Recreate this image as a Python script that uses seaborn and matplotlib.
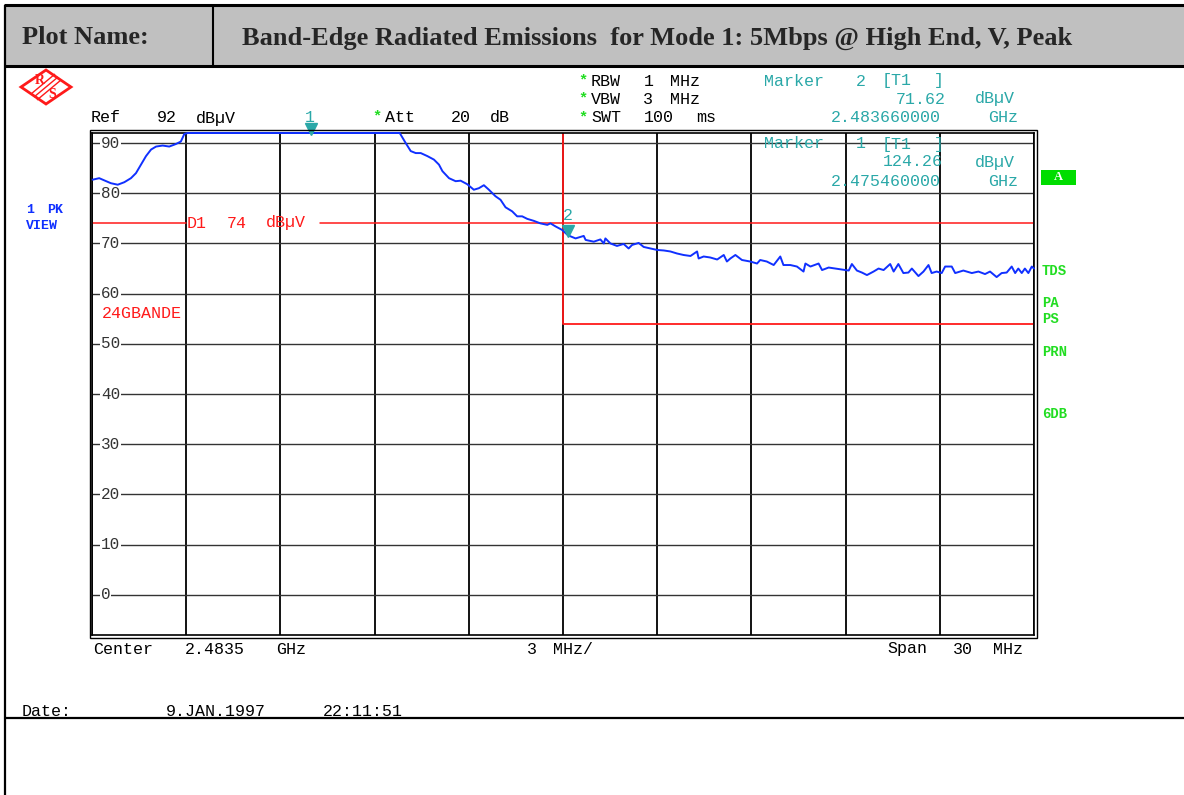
import numpy as np
import pandas as pd
import matplotlib
matplotlib.use("Agg")
import matplotlib.pyplot as plt
import seaborn as sns
from matplotlib.patches import Rectangle, Polygon
from matplotlib.lines import Line2D

# trace (MHz, dBuV); values above ref level are clipped on screen
freq_mhz = [2468.52, 2468.73, 2468.95, 2469.10, 2469.32, 2469.53, 2469.74, 2469.90, 2470.06, 2470.22,
            2470.38, 2470.54, 2470.75, 2470.96, 2471.17, 2471.33, 2471.44, 2471.55, 2475.46, 2478.30,
            2478.49, 2478.65, 2478.81, 2478.97, 2479.18, 2479.39, 2479.55, 2479.66, 2479.87, 2480.08,
            2480.24, 2480.45, 2480.66, 2480.82, 2480.98, 2481.14, 2481.35, 2481.51, 2481.67, 2481.88,
            2482.04, 2482.20, 2482.36, 2482.57, 2482.78, 2483.00, 2483.10, 2483.26, 2483.47, 2483.66,
            2483.90, 2484.16, 2484.22, 2484.48, 2484.69, 2484.80, 2484.85, 2485.01, 2485.22, 2485.43,
            2485.59, 2485.70, 2485.91, 2486.07, 2486.28, 2486.50, 2486.71, 2486.92, 2487.13, 2487.34,
            2487.56, 2487.77, 2487.82, 2487.98, 2488.19, 2488.41, 2488.62, 2488.72, 2488.83, 2488.99,
            2489.20, 2489.46, 2489.68, 2489.78, 2489.99, 2490.21, 2490.42, 2490.52, 2490.74, 2490.95,
            2491.16, 2491.22, 2491.38, 2491.64, 2491.75, 2491.96, 2492.17, 2492.38, 2492.60, 2492.70,
            2492.86, 2493.02, 2493.18, 2493.39, 2493.55, 2493.71, 2493.92, 2494.03, 2494.18, 2494.34,
            2494.50, 2494.61, 2494.82, 2494.98, 2495.14, 2495.24, 2495.40, 2495.56, 2495.67, 2495.88,
            2495.99, 2496.25, 2496.52, 2496.73, 2496.94, 2497.10, 2497.31, 2497.47, 2497.63, 2497.79,
            2497.90, 2498.00, 2498.11, 2498.21, 2498.32, 2498.43, 2498.50]
level_dbuv = [82.7, 83.0, 82.4, 82.0, 81.7, 82.2, 83.0, 84.0, 85.7, 87.4,
              88.7, 89.3, 89.5, 89.3, 89.8, 90.3, 91.8, 95.0, 124.26, 95.0,
              90.0, 88.4, 88.0, 88.0, 87.4, 86.7, 85.7, 84.4, 83.0, 82.4,
              82.5, 81.8, 80.7, 81.0, 81.6, 80.7, 79.4, 78.7, 77.2, 76.4,
              75.4, 75.4, 74.9, 74.5, 74.0, 73.7, 74.0, 73.4, 72.7, 71.62,
              71.0, 71.5, 70.7, 70.35, 70.8, 70.0, 71.0, 70.0, 69.5, 69.9,
              69.0, 69.7, 70.1, 69.3, 69.0, 68.7, 68.6, 68.4, 68.0, 67.7,
              67.5, 68.4, 67.0, 67.4, 67.2, 66.8, 67.7, 66.4, 67.0, 67.7,
              66.7, 66.4, 66.0, 66.7, 66.4, 65.7, 67.4, 65.7, 65.7, 65.4,
              64.4, 66.0, 65.4, 66.0, 64.7, 65.2, 65.0, 64.8, 64.6, 65.9,
              64.6, 64.2, 63.7, 64.4, 65.0, 64.7, 65.9, 64.4, 65.9, 64.1,
              64.2, 65.0, 63.5, 64.4, 65.7, 64.1, 64.4, 64.1, 65.4, 65.4,
              64.1, 64.6, 64.1, 64.4, 63.9, 64.4, 63.3, 64.1, 64.2, 65.4,
              64.1, 65.0, 64.1, 65.0, 64.1, 65.4, 65.0]

ref_level = 92
display_range = 100
center_mhz = 2483.5
span_mhz = 30
d1_level = 74
limit_level = 54
marker_freq_mhz = [2475.46, 2483.66]
marker_level = [124.26, 71.62]
y_tick_values = [0, 10, 20, 30, 40, 50, 60, 70, 80, 90]

W, H = 1184, 795
BLUE = "#1030ff"
TEAL = "#2aa8a8"
GREEN = "#22dd22"
RED = "#ff1a1a"
MONO = ["Liberation Mono", "DejaVu Sans Mono"]
SERIF = ["Liberation Serif", "DejaVu Serif"]

sns.set_style("white")
plt.rcParams["font.family"] = MONO

fig = plt.figure(figsize=(W / 100, H / 100), dpi=100)


def fx(x):
    return x / W


def fy(y):
    return 1 - y / H


def line(x0, y0, x1, y1, lw=1.5, color="black"):
    fig.add_artist(Line2D([fx(x0), fx(x1)], [fy(y0), fy(y1)], transform=fig.transFigure,
                          lw=lw, color=color, solid_capstyle="butt"))


def screen_text(x, y, s, color="black", ha="left", size=12, weight="normal", pitch=13.1):
    # the analyser font is very wide, so each word goes at its own character cell
    if ha == "right":
        x = x - len(s) * pitch
    col = 0
    for word in s.split(" "):
        if word:
            fig.text(fx(x + col * pitch), fy(y), word, color=color, fontsize=size,
                     fontweight=weight, va="center", ha="left", family=MONO)
        col += len(word) + 1


def star(x, y):
    fig.text(fx(x), fy(y), "*", color=GREEN, fontsize=11, fontweight="bold", va="center", family=MONO)


# --- table frame ---
fig.add_artist(Rectangle((fx(5), fy(66)), 1 - fx(5), fy(5) - fy(66), transform=fig.transFigure,
                         facecolor="#c0c0c0", edgecolor="none", zorder=0))
line(4, 5, W, 5, lw=2.2)
line(4, 66, W, 66, lw=2.2)
line(5, 5, 5, H, lw=1.6)
line(213, 5, 213, 66, lw=1.5)
line(5, 718, W, 718, lw=1.6)
fig.text(fx(22), fy(38), "Plot Name:", fontsize=19, fontweight="bold", family=SERIF, va="center")
fig.text(fx(242), fy(38), "Band-Edge Radiated Emissions  for Mode 1: 5Mbps @ High End, V, Peak",
         fontsize=19, fontweight="bold", family=SERIF, va="center")

# --- R&S logo ---
fig.add_artist(Polygon([(fx(21), fy(87)), (fx(46), fy(70)), (fx(71), fy(87)), (fx(46), fy(104))],
                       closed=True, transform=fig.transFigure, facecolor="white", edgecolor=RED, lw=2.0))
for k in (-3, 0, 3):
    line(34 + k, 97 + k, 58 + k, 77 + k, lw=1.0, color=RED)
fig.text(fx(40), fy(80), "R", color=RED, fontsize=10, fontweight="bold", ha="center", va="center", family=SERIF)
fig.text(fx(52), fy(94), "S", color=RED, fontsize=10, fontweight="bold", ha="center", va="center", family=SERIF)

# --- plot area ---
ax = fig.add_axes([fx(92), fy(635), fx(1034) - fx(92), fy(133) - fy(635)])
f_lo = center_mhz - span_mhz / 2
f_hi = center_mhz + span_mhz / 2
ax.set_xlim(f_lo, f_hi)
ax.set_ylim(ref_level - display_range, ref_level)
ax.set_xticks(np.arange(f_lo, f_hi + 0.01, span_mhz / 10))
ax.set_yticks(y_tick_values)
ax.tick_params(length=0, labelleft=False, labelbottom=False)
ax.xaxis.grid(True, color="black", lw=1.3)
ax.yaxis.grid(True, color="#333333", lw=1.0)
for sp in ax.spines.values():
    sp.set_color("black")
    sp.set_linewidth(1.2)
# outer line of the double frame
fig.add_artist(Rectangle((fx(89.5), fy(637.5)), fx(1036.5) - fx(89.5), fy(130.5) - fy(637.5),
                         transform=fig.transFigure, fill=False, edgecolor="black", lw=1.0))

for v in y_tick_values:
    ax.text(0.0096, v, str(v), transform=ax.get_yaxis_transform(), fontsize=11.5, va="center",
            ha="left", color="#333333", family=MONO,
            bbox=dict(facecolor="white", edgecolor="none", pad=0.6), zorder=3)

# display line D1 (broken where its label sits) and the band-edge limit
ax.axhline(d1_level, xmin=0, xmax=(186 - 92) / 942, color=RED, lw=1.1, zorder=2)
ax.axhline(d1_level, xmin=(320 - 92) / 942, xmax=1, color=RED, lw=1.1, zorder=2)
ax.plot([center_mhz, center_mhz, f_hi], [ref_level, limit_level, limit_level], color=RED, lw=1.3, zorder=2)

df = pd.DataFrame({"freq": freq_mhz, "level": np.minimum(level_dbuv, ref_level)})
sns.lineplot(data=df, x="freq", y="level", color=BLUE, lw=1.4, ax=ax, estimator=None, sort=False, zorder=4)
ax.lines[-1].set_clip_on(False)
ax.set_xlabel("")
ax.set_ylabel("")

# marker triangles
m_y = np.minimum(marker_level, ref_level)
ax.plot(marker_freq_mhz[0], m_y[0] + 0.8, marker="v", color=TEAL, markersize=9, clip_on=False, zorder=5)
ax.plot(marker_freq_mhz[1], m_y[1] + 0.8, marker="v", color=TEAL, markersize=9, clip_on=False, zorder=5)
ax.text(marker_freq_mhz[1], m_y[1] + 2.5, "2", color=TEAL, fontsize=12, ha="center", va="bottom", family=MONO)

# --- screen annotations ---
screen_text(91, 118, "Ref  92 dBµV")
screen_text(305, 118, "1", color=TEAL)
star(372, 116)
screen_text(385, 118, "Att  20 dB")
star(578, 80)
screen_text(591, 81, "RBW 1 MHz")
star(578, 98)
screen_text(591, 99, "VBW 3 MHz")
star(578, 117)
screen_text(591, 118, "SWT 100 ms")
screen_text(764, 81, "Marker 2 [T1 ]", color=TEAL)
screen_text(1027, 99, "71.62 dBµV", color=TEAL, ha="right")
screen_text(1027, 118, "2.483660000 GHz", color=TEAL, ha="right")
screen_text(764, 144, "Marker 1 [T1 ]", color=TEAL)
screen_text(1027, 162, "124.26 dBµV", color=TEAL, ha="right")
screen_text(1027, 181, "2.475460000 GHz", color=TEAL, ha="right")

screen_text(26, 210, "1 PK", color=BLUE, size=9.5, weight="bold", pitch=10.7)
screen_text(26, 226, "VIEW", color=BLUE, size=9.5, weight="bold", pitch=10.7)

screen_text(187, 223, "D1 74 dBµV", color=RED)
screen_text(102, 314, "24GBANDE", color=RED)

fig.add_artist(Rectangle((fx(1041), fy(185)), fx(35), fy(0) - fy(15), transform=fig.transFigure,
                         facecolor="#00dd00", edgecolor="none"))
fig.text(fx(1058.5), fy(177.5), "A", color="white", fontsize=9, fontweight="bold", ha="center",
         va="center", family=SERIF)
for lab, yy in [("TDS", 271), ("PA", 303), ("PS", 319), ("PRN", 352), ("6DB", 414)]:
    fig.text(fx(1042), fy(yy), lab, color=GREEN, fontsize=10, fontweight="bold", va="center", family=MONO)

screen_text(93, 649, "Center 2.4835 GHz")
screen_text(527, 649, "3 MHz/")
screen_text(1032, 649, "Span 30 MHz", ha="right")
screen_text(22, 712, "Date:      9.JAN.1997  22:11:51")

fig.savefig("out.png", dpi=100)
